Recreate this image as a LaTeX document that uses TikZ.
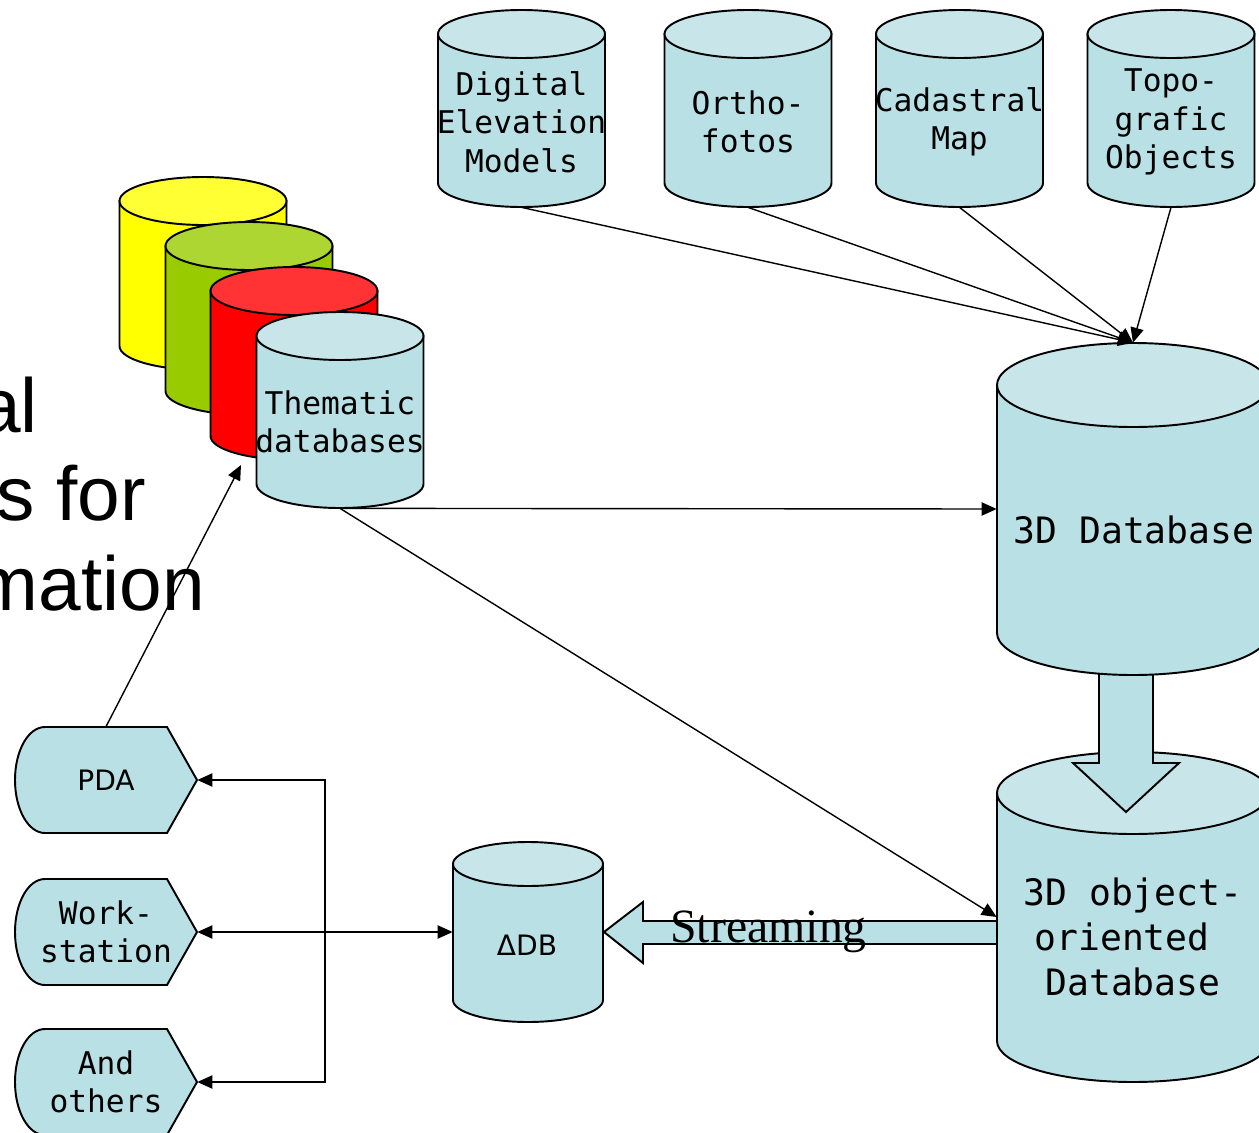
\documentclass[tikz,border=0pt]{standalone}
\usepackage{fontspec}
\usetikzlibrary{arrows.meta}
\newfontfamily\monof{DejaVu Sans Mono}
\newfontfamily\sansf{DejaVu Sans}
\newfontfamily\arialf{Liberation Sans}
\newfontfamily\timesf{Liberation Serif}
\definecolor{cbody}{RGB}{185,224,228}
\definecolor{ctop}{RGB}{200,230,233}
\definecolor{ybody}{RGB}{255,255,0}
\definecolor{ytop}{RGB}{255,255,51}
\definecolor{gbody}{RGB}{153,204,0}
\definecolor{gtop}{RGB}{173,214,51}
\definecolor{rbody}{RGB}{255,0,0}
\definecolor{rtop}{RGB}{255,51,51}
% name, cx, top-centre, bottom-centre, rx, ry, body colour, top colour
\newcommand\cylshape[8]{%
  \path[outl, fill=#7] (#2-#5,#3) -- (#2-#5,#4) arc[start angle=180,end angle=0,x radius=#5,y radius=#6] -- (#2+#5,#3) -- cycle;
  \path[outl, fill=#8] (#2,#3) ellipse[x radius=#5, y radius=#6];
  \node[inner sep=0pt, minimum width={2*#5*0.02cm}, minimum height={(#4-#3+2*#6)*0.02cm}] (#1) at (#2,{(#3+#4)/2}) {};
}
% centre y of a display shape
\newcommand\dispshape[1]{%
  \path[outl, fill=cbody] (45,#1-53) -- (167,#1-53) -- (197,#1) -- (167,#1+53) -- (45,#1+53)
    .. controls (28,#1+53) and (15,#1+29) .. (15,#1)
    .. controls (15,#1-29) and (28,#1-53) .. (45,#1-53) -- cycle;
}
\begin{document}
\begin{tikzpicture}[x=0.02cm,y=-0.02cm,
  outl/.style={draw=black, line width=1.1pt},
  arr/.style={-{Triangle[length=8.5pt,width=7.5pt]}, line width=0.8pt},
  dbl/.style={{Triangle[length=8.5pt,width=7.5pt]}-{Triangle[length=8.5pt,width=7.5pt]}, line width=0.8pt},
  monotxt/.style={inner sep=0pt, align=center, font=\monof\fontsize{17.8}{21.8}\selectfont},
  bigmono/.style={inner sep=0pt, align=center, font=\monof\fontsize{20.7}{25.5}\selectfont},
  devtxt/.style={inner sep=0pt, minimum width={182*0.02cm}, minimum height={106*0.02cm}, align=center, font=\monof\fontsize{17.8}{21.8}\selectfont},
  bigtxt/.style={inner sep=0pt, anchor=base east, font=\arialf\fontsize{43.6}{50}\selectfont}]
\useasboundingbox (0,0) rectangle (1259,1133);
\clip (0,0) rectangle (1259,1133);

% large title text, cut off at the left edge as in the reference
\node[bigtxt] (t1) at (38,432) {al};
\node[bigtxt] (t2) at (146,520) {s for};
\node[bigtxt] (t3) at (205,610) {mation};

% top sources
\cylshape{dem}{521.5}{34}{183}{83.5}{24}{cbody}{ctop}
\cylshape{ortho}{748}{34}{183}{83.5}{24}{cbody}{ctop}
\cylshape{cad}{959.5}{34}{183}{83.5}{24}{cbody}{ctop}
\cylshape{topo}{1171}{34}{183}{83.5}{24}{cbody}{ctop}
\node[monotxt] at (521.5,122) {Digital\\Elevation\\Models};
\node[monotxt] at (748,122) {Ortho-\\fotos};
\node[monotxt] at (959.5,122) {Cadastral\\Map};
\node[monotxt] at (1171,122) {Topo-\\grafic\\Objects};

% thematic stack
\cylshape{yel}{203}{201}{346}{83.5}{24}{ybody}{ytop}
\cylshape{grn}{249}{246}{391}{83.5}{24}{gbody}{gtop}
\cylshape{red}{294}{291}{436}{83.5}{24}{rbody}{rtop}
\cylshape{them}{340}{336}{484}{83.5}{24}{cbody}{ctop}
\node[monotxt] at (340,422) {Thematic\\databases};

% streaming block arrow
\path[outl, fill=cbody] (604,932) -- (643,902) -- (643,921) -- (1000,921) -- (1000,944) -- (643,944) -- (643,963) -- cycle;
\node[inner sep=0pt, anchor=base west, font=\timesf\fontsize{27.2}{30}\selectfont] (strm) at (670,942) {Streaming};

% 3D object-oriented database
\cylshape{oo}{1133}{793}{1041}{136}{41}{cbody}{ctop}
\node[bigmono] at (1133,937) {3D object-\\oriented\hphantom{x}\\Database};

% big down arrow
\path[outl, fill=cbody] (1099,650) -- (1099,763) -- (1073,763) -- (1126,812) -- (1179,763) -- (1153,763) -- (1153,650) -- cycle;

% 3D database
\cylshape{db3}{1133}{385}{633}{136}{42}{cbody}{ctop}
\node[bigmono] at (1134,530) {3D Database};

% delta DB
\cylshape{ddb}{528}{864}{1000}{75}{22}{cbody}{ctop}
\node[inner sep=0pt, font=\sansf\fontsize{16}{18}\selectfont] at (527,945) {ΔDB};

% devices
\dispshape{780}
\dispshape{932}
\dispshape{1082}
\node[devtxt] (pda) at (106,780) {\sansf\fontsize{16}{18}\selectfont PDA};
\node[devtxt] (ws) at (106,932) {Work-\\station};
\node[devtxt] (ao) at (106,1082) {And\\others};

% connectors
\coordinate (jn) at (325,932);
\coordinate (redtip) at (241,465);
\draw[arr] (dem.south) -- (db3.north);
\draw[arr] (ortho.south) -- (db3.north);
\draw[arr] (cad.south) -- (db3.north);
\draw[arr] (topo.south) -- (db3.north);
\draw[arr] (them.south) -- (db3.west);
\draw[arr] (them.south) -- (oo.west);
\draw[arr] (pda.north) -- (redtip);
\draw[dbl] (pda.east) -| (jn) |- (ao.east);
\draw[dbl] (ws.east) -- (ddb.west);
\end{tikzpicture}
\end{document}
